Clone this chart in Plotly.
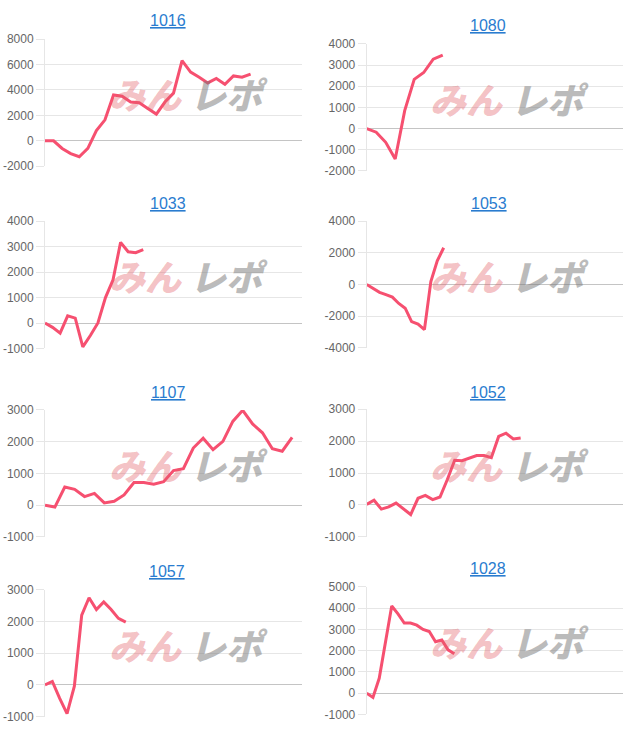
import plotly.graph_objects as go

# ---------------- data ----------------
titles = ["1016", "1080", "1033", "1053", "1107", "1052", "1057", "1028"]

values_1016 = [0, 0, -600, -1000, -1250, -600, 800, 1650, 3600, 3500, 3050, 3000, 2550,
               2100, 3050, 3750, 6300, 5400, 5000, 4550, 4900, 4450, 5100, 5000, 5250]
values_1080 = [0, -170, -650, -1440, 850, 2330, 2650, 3280, 3470]
values_1033 = [0, -170, -400, 280, 190, -940, -490, 0, 1000, 1700, 3170, 2800, 2760, 2880]
values_1053 = [0, -230, -500, -640, -800, -1200, -1500, -2350, -2500, -2850, 190, 1490, 2320]
values_1107 = [0, -60, 570, 500, 270, 370, 70, 120, 320, 710, 710, 660, 740, 1090, 1150,
               1800, 2110, 1750, 2010, 2640, 2990, 2560, 2280, 1780, 1700, 2140]
values_1052 = [20, 150, -130, -60, 60, -110, -300, 210, 300, 170, 250, 800, 1400, 1390,
               1470, 1550, 1550, 1480, 2150, 2250, 2070, 2100]
values_1057 = [0, 110, -420, -900, -40, 2200, 2750, 2380, 2620, 2380, 2100, 1980]
values_1028 = [0, -200, 700, 2400, 4100, 3730, 3300, 3300, 3200, 3000, 2900, 2420, 2500,
               2040, 1850]

# number of x-axis slots (dates) on each chart
slots = [31, 28, 35, 41, 27, 36, 36, 42]

ticks_1016 = [-2000, 0, 2000, 4000, 6000, 8000]
ticks_1080 = [-2000, -1000, 0, 1000, 2000, 3000, 4000]
ticks_1033 = [-1000, 0, 1000, 2000, 3000, 4000]
ticks_1053 = [-4000, -2000, 0, 2000, 4000]
ticks_1107 = [-1000, 0, 1000, 2000, 3000]
ticks_1052 = [-1000, 0, 1000, 2000, 3000]
ticks_1057 = [-1000, 0, 1000, 2000, 3000]
ticks_1028 = [-1000, 0, 1000, 2000, 3000, 4000, 5000]

watermark_left = "みん"
watermark_right = "レポ"

series = [values_1016, values_1080, values_1033, values_1053,
          values_1107, values_1052, values_1057, values_1028]
ticks = [ticks_1016, ticks_1080, ticks_1033, ticks_1053,
         ticks_1107, ticks_1052, ticks_1057, ticks_1028]

# ---------------- layout (pixels) ----------------
W, H = 640, 745
col_x = [(45, 302), (366.7, 623.3)]
plot_y = [(32.7, 162.3), (37.7, 167), (218.3, 348), (218.3, 347.3),
          (410.7, 540), (410, 540), (594, 723.3), (591, 721)]
title_pos = [(168.3, 14), (488.3, 19), (168.3, 200), (489, 200),
             (168.3, 393.3), (488, 393.3), (166.7, 575), (487.7, 572.7)]

LINE = "#f65070"
GRID = "#e6e6e6"
ZERO = "#c4c4c4"
TICKTXT = "#666666"
LINK = "#2a7ccf"

fig = go.Figure()
annotations = []

for i, (vals, tk) in enumerate(zip(series, ticks)):
    n = i + 1
    xa = "x" if n == 1 else f"x{n}"
    ya = "y" if n == 1 else f"y{n}"
    col = i % 2
    x0, x1 = col_x[col]
    yt, yb = plot_y[i]
    fig.add_trace(go.Scatter(
        x=list(range(len(vals))), y=vals, mode="lines",
        line=dict(color=LINE, width=3), xaxis=xa, yaxis=ya,
        hoverinfo="skip", showlegend=False))
    fig.layout[f"xaxis{'' if n == 1 else n}"] = dict(
        domain=[x0 / W, x1 / W], range=[0, slots[i] - 1],
        showgrid=False, zeroline=False, showticklabels=False, showline=False,
        ticks="", anchor=ya, fixedrange=True)
    fig.layout[f"yaxis{'' if n == 1 else n}"] = dict(
        domain=[1 - yb / H, 1 - yt / H], range=[tk[0], tk[-1]],
        tickmode="array", tickvals=tk, ticktext=[str(v) for v in tk],
        showgrid=True, gridcolor=GRID, gridwidth=1,
        zeroline=True, zerolinecolor=ZERO, zerolinewidth=1,
        showline=True, linecolor=GRID, linewidth=1,
        ticks="outside", ticklen=8, tickcolor=GRID, tickwidth=1,
        tickfont=dict(family="Arial, Liberation Sans, sans-serif", size=12, color=TICKTXT),
        anchor=xa, fixedrange=True)

    # title (link style)
    tx, ty = title_pos[i]
    annotations.append(dict(
        text=f"<u>{titles[i]}</u>", x=tx / W, y=1 - ty / H, xref="paper", yref="paper",
        xanchor="center", yanchor="middle", showarrow=False,
        font=dict(family="Arial, Liberation Sans, sans-serif", size=16, color=LINK)))

    # watermark
    wx = x0 + 0.543 * (x1 - x0)
    wy = yb - 0.575 * (yb - yt)
    annotations.append(dict(
        text=watermark_left, x=wx / W, y=1 - wy / H, xref="paper", yref="paper",
        xanchor="right", yanchor="middle", showarrow=False,
        font=dict(family="Noto Sans CJK JP", size=36, color="rgba(226,95,105,0.4)",
                  weight=900, style="italic")))
    annotations.append(dict(
        text=watermark_right, x=(wx + 3) / W, y=1 - wy / H, xref="paper", yref="paper",
        xanchor="left", yanchor="middle", showarrow=False,
        font=dict(family="Noto Sans CJK JP", size=36, color="rgba(120,120,120,0.5)",
                  weight=900, style="italic")))

fig.update_layout(
    width=W, height=H, margin=dict(l=0, r=0, t=0, b=0),
    paper_bgcolor="white", plot_bgcolor="white",
    annotations=annotations, showlegend=False)

fig.write_html(
    "out.html", config={"displayModeBar": False},
    post_script="document.body.style.margin='0';document.body.style.overflow='hidden';")
